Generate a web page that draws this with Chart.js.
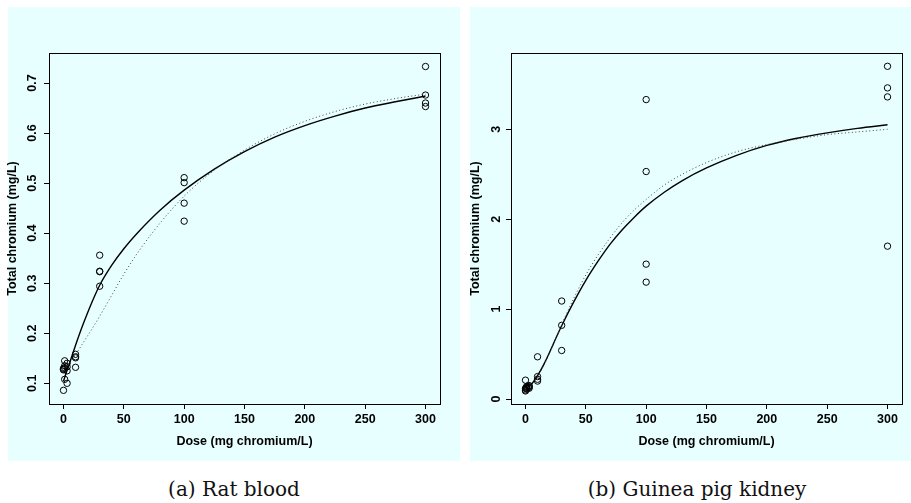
<!DOCTYPE html>
<html>
<head>
<meta charset="utf-8">
<title>chromium</title>
<script src="https://cdn.jsdelivr.net/npm/chart.js@4.4.0/dist/chart.umd.min.js"></script>
<style>
  body { margin: 0; background: #fff; }
  #wrap { position: relative; width: 911px; height: 503px; overflow: hidden; }
  .bg { position: absolute; background: #e8ffff; }
  canvas { position: absolute; top: 0; }
  .cap { position: absolute; top: 477px; font-family: "DejaVu Serif", serif; font-size: 20px; color: #111; text-align: center; }
</style>
</head>
<body>
<div id="wrap">
  <div class="bg" style="left:8px;top:7px;width:452px;height:454px"></div>
  <div class="bg" style="left:470px;top:7px;width:441px;height:454px"></div>
  <canvas id="ratChart" width="460" height="460" style="left:0px"></canvas>
  <canvas id="gpChart" width="449" height="460" style="left:462px"></canvas>
  <div class="cap" style="left:114px;width:240px">(a) Rat blood</div>
  <div class="cap" style="left:537px;width:320px">(b) Guinea pig kidney</div>
</div>
<script>

// (a) rat blood
const ratDose = [0,0,0,0, 1,1,1,1, 3,3,3,3, 10,10,10,10, 30,30,30,30, 100,100,100,100, 300,300,300,300];
const ratCr = [0.086,0.128,0.130,0.127, 0.145,0.108,0.131,0.135, 0.133,0.100,0.125,0.140,
  0.158,0.153,0.151,0.132, 0.356,0.323,0.324,0.294, 0.511,0.501,0.460,0.424, 0.733,0.676,0.660,0.653];

// fitted curves (a)
const ratFitDose = [0,2,5,10,15,20,25,30,40,50,63,80,100,125,150,175,200,225,250,275,300];
const ratSolid = [0.104,0.119,0.140,0.176,0.210,0.241,0.270,0.296,0.336,0.369,0.405,0.446,0.486,
  0.528,0.563,0.592,0.615,0.634,0.650,0.6625,0.674];
const ratDotted = [0.125,0.131,0.140,0.157,0.176,0.195,0.214,0.234,0.276,0.318,0.366,0.420,0.474,
  0.526,0.566,0.5985,0.6235,0.643,0.658,0.669,0.678];

// (b) guinea pig kidney
const gpDose = [0,0,0,0, 1,1,1,1, 3,3,3,3, 10,10,10,10, 30,30,30, 100,100,100,100, 300,300,300,300];
const gpCr = [0.21,0.10,0.09,0.12, 0.13,0.11,0.12,0.14, 0.14,0.12,0.13,0.15,
  0.47,0.25,0.22,0.20, 1.09,0.82,0.54, 3.33,2.53,1.50,1.30, 3.70,3.46,3.36,1.70];

// fitted curves (b)
const gpFitDose = [0,5,10,15,20,25,30,40,50,60,70,80,90,100,115,130,150,175,200,225,250,275,300];
const gpSolid = [0.10,0.165,0.26,0.38,0.52,0.67,0.815,1.08,1.32,1.53,1.72,1.88,2.02,2.145,
  2.30,2.43,2.57,2.71,2.82,2.90,2.96,3.01,3.05];
const gpDotted = [0.10,0.16,0.25,0.37,0.51,0.67,0.83,1.12,1.38,1.60,1.79,1.96,2.10,2.22,
  2.38,2.50,2.63,2.75,2.83,2.89,2.94,2.97,3.00];

// axis ticks
const doseTicks = [0,50,100,150,200,250,300];
const ratTicks = [0.1,0.2,0.3,0.4,0.5,0.6,0.7];
const gpTicks = [0,1,2,3];

const xTitle = "Dose (mg chromium/L)";
const yTitle = "Total chromium (mg/L)";

function pairs(xs, ys) {
  return xs.map((x, i) => ({ x: x, y: ys[i] }));
}

// box round the plot region, like R's box()
const boxPlugin = {
  id: "box",
  afterDraw(chart) {
    const a = chart.chartArea;
    const ctx = chart.ctx;
    ctx.save();
    ctx.strokeStyle = "#000";
    ctx.lineWidth = 1;
    ctx.strokeRect(Math.round(a.left) + 0.5, Math.round(a.top) + 0.5,
      Math.round(a.right - a.left), Math.round(a.bottom - a.top));
    ctx.restore();
  }
};

const tickFont = { family: "'Liberation Sans', Arial, sans-serif", size: 12.5, weight: "700" };
const titleFont = { family: "'Liberation Sans', Arial, sans-serif", size: 12.5, weight: "700", lineHeight: 1 };

function makeChart(id, dose, vals, fitDose, solid, dotted, ymin, ymax, yTicks, yPad, titlePad, rightPad) {
  const ctx = document.getElementById(id).getContext("2d");
  return new Chart(ctx, {
    type: "scatter",
    data: {
      datasets: [
        {
          type: "line",
          data: pairs(fitDose, dotted),
          borderColor: "#444",
          borderWidth: 1,
          borderDash: [1, 2.5],
          pointRadius: 0,
          cubicInterpolationMode: "monotone",
          fill: false
        },
        {
          type: "line",
          data: pairs(fitDose, solid),
          borderColor: "#000",
          borderWidth: 1.4,
          pointRadius: 0,
          cubicInterpolationMode: "monotone",
          fill: false
        },
        {
          data: pairs(dose, vals),
          pointStyle: "circle",
          pointRadius: 3.2,
          borderWidth: 1,
          borderColor: "#000",
          backgroundColor: "rgba(0,0,0,0)"
        }
      ]
    },
    options: {
      responsive: false,
      animation: false,
      layout: { padding: { top: 53, right: rightPad, bottom: 0, left: 0 } },
      plugins: { legend: { display: false }, tooltip: { enabled: false } },
      scales: {
        x: {
          type: "linear",
          min: -12,
          max: 312,
          afterBuildTicks: (s) => { s.ticks = doseTicks.map(v => ({ value: v })); },
          afterFit: (s) => { s.height = 56; },
          border: { display: false },
          grid: { drawOnChartArea: false, drawTicks: true, tickLength: 5, color: "#000" },
          ticks: { font: tickFont, color: "#000", padding: 3, maxRotation: 0, autoSkip: false },
          title: { display: true, text: xTitle, font: titleFont, color: "#000", padding: { top: 0, bottom: 12 } }
        },
        y: {
          type: "linear",
          min: ymin,
          max: ymax,
          afterBuildTicks: (s) => { s.ticks = yTicks.map(v => ({ value: v })); },
          afterFit: (s) => { s.width = 49; },
          border: { display: false },
          grid: { drawOnChartArea: false, drawTicks: true, tickLength: 5, color: "#000" },
          ticks: { font: tickFont, color: "#000", padding: yPad, minRotation: 90, maxRotation: 90,
                   crossAlign: "center", autoSkip: false },
          title: { display: true, text: yTitle, font: titleFont, color: "#000", padding: { top: titlePad, bottom: 0 } }
        }
      }
    },
    plugins: [boxPlugin]
  });
}

makeChart("ratChart", ratDose, ratCr, ratFitDose, ratSolid, ratDotted, 0.0587, 0.76, ratTicks, 2.4, 6, 20);
makeChart("gpChart", gpDose, gpCr, gpFitDose, gpSolid, gpDotted, -0.055, 3.848, gpTicks, 6, 7, 9);
</script>
</body>
</html>
